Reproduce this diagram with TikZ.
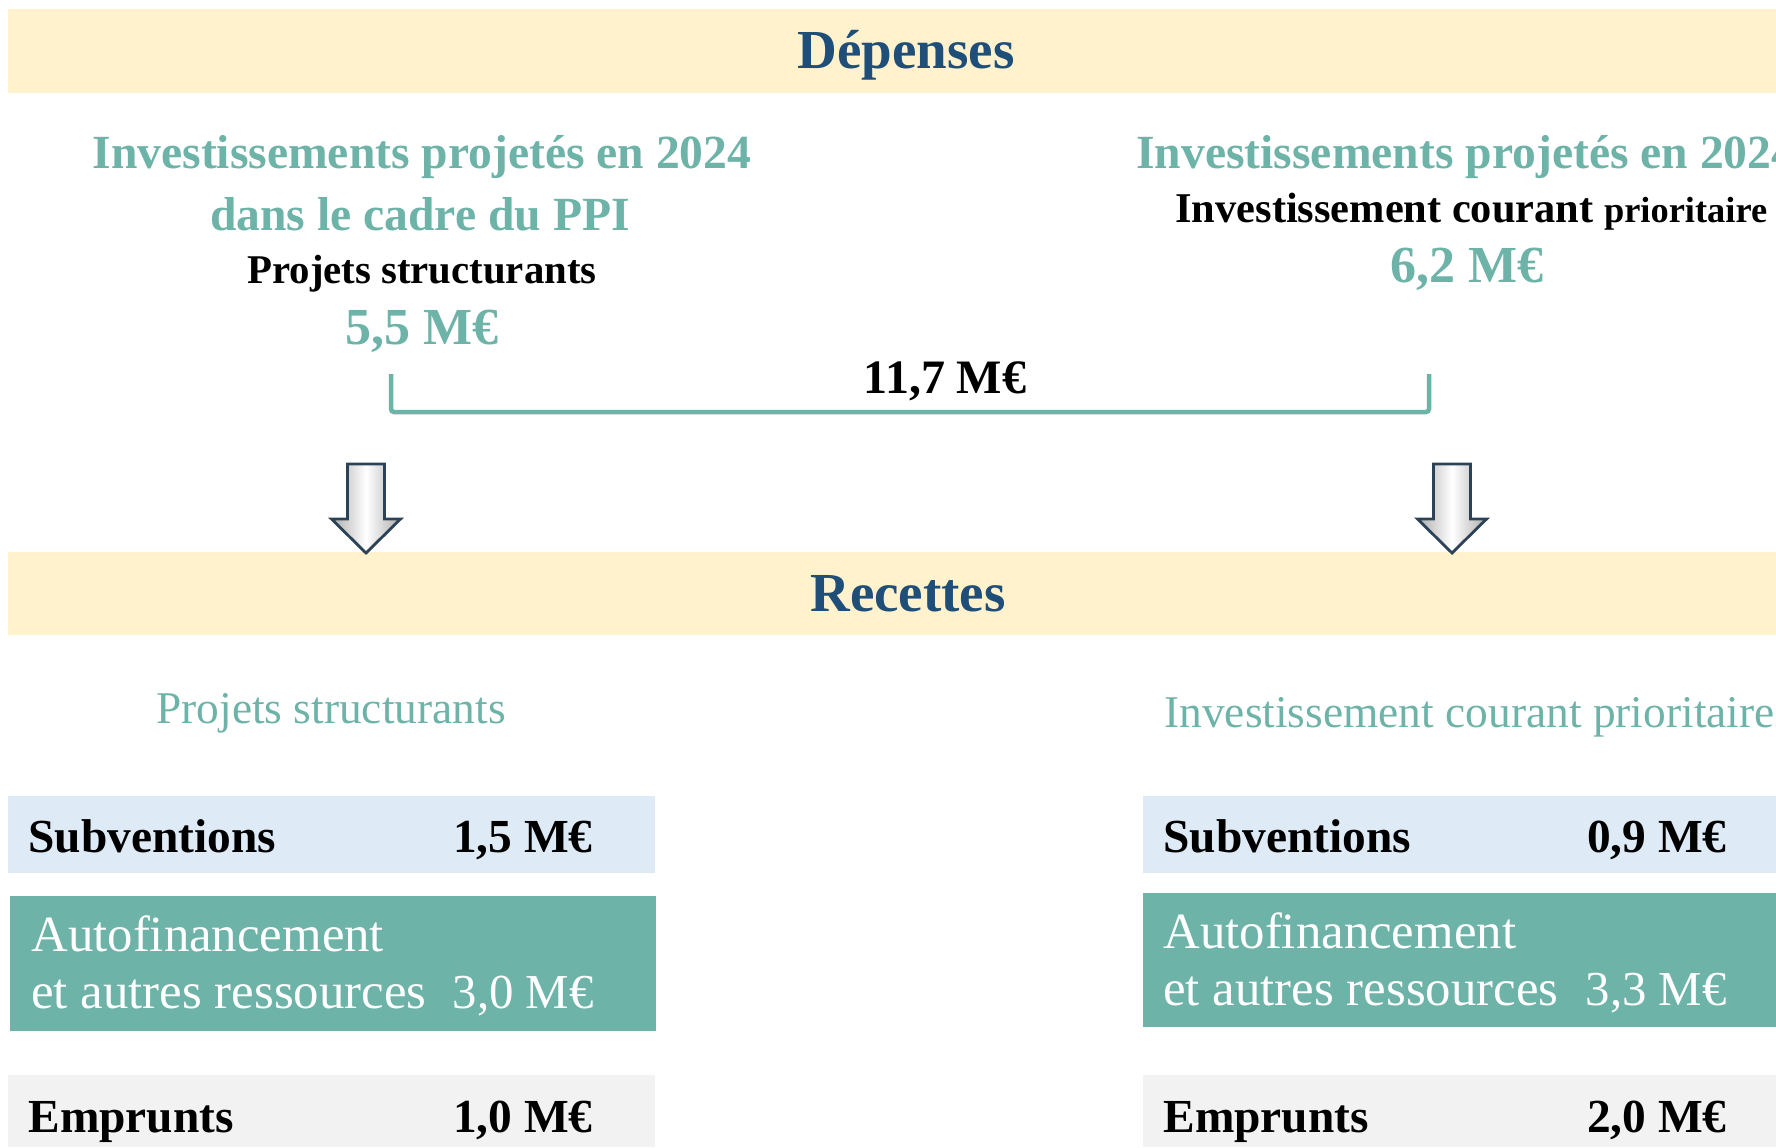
\documentclass[tikz,border=0pt]{standalone}
\usepackage{fontspec}
\setmainfont{Liberation Serif}
\usepackage{tikz}
\usetikzlibrary{positioning}

\definecolor{cream}{HTML}{FFF2CC}
\definecolor{navy}{HTML}{1F4E79}
\definecolor{tealgreen}{HTML}{6DB3A8}
\definecolor{paleblue}{HTML}{DEEAF6}
\definecolor{palegrey}{HTML}{F2F2F2}
\definecolor{arrowline}{HTML}{2B4257}

\begin{document}
\begin{tikzpicture}[x=0.5pt,y=-0.5pt]
\tikzset{
    title/.style={anchor=base, inner sep=0, text=navy,
       font=\fontsize{27.5}{30}\selectfont\bfseries},
    head/.style={anchor=base, inner sep=0, text=tealgreen,
       font=\fontsize{23.8}{28}\selectfont\bfseries},
    sub/.style={anchor=base, inner sep=0,
       font=\fontsize{20.4}{24}\selectfont\bfseries},
    amount/.style={anchor=base, inner sep=0, text=tealgreen,
       font=\fontsize{26}{30}\selectfont\bfseries},
    subhead/.style={anchor=base, inner sep=0, text=tealgreen,
       font=\fontsize{22.7}{26}\selectfont},
    rowlabel/.style={anchor=base west, inner sep=0,
       font=\fontsize{23.7}{28}\selectfont\bfseries},
    rowvalue/.style={anchor=base east, inner sep=0,
       font=\fontsize{23.7}{28}\selectfont\bfseries},
    autolabel/.style={anchor=base west, inner sep=0, text=white,
       font=\fontsize{25.4}{28}\selectfont},
    autovalue/.style={anchor=base east, inner sep=0, text=white,
       font=\fontsize{24.4}{28}\selectfont},
    bracket/.style={draw=tealgreen, line width=2.25pt, rounded corners=1.5pt},
    darrow/.pic={
       \path[draw=arrowline, line width=1.4pt, left color=gray!65,
             right color=gray!65, middle color=white]
         (-18.5,0) -- (18.5,0) -- (18.5,55) -- (34.5,55) -- (0,89)
         -- (-34.5,55) -- (-18.5,55) -- cycle;
    }
}
%
\useasboundingbox (0,0) rectangle (1776,1147);
\clip (0,0) rectangle (1776,1147);

% bands
\fill[cream] (8,9) rectangle (1776,93);
\fill[cream] (8,552) rectangle (1776,635);
\node[title] (dep) at (906,68) {Dépenses};
\node[title] (rec) at (908,611) {Recettes};

% depenses
\node[head] (hl1) at (422,168) {Investissements projetés en 2024};
\node[head] (hl2) at (420,230) {dans le cadre du PPI};
\node[sub] (psd) at (422,283) {Projets structurants};
\node[amount] (mL) at (422,344) {5,5 M€};

\node[head, anchor=base west] (hr1) at (1136,168) {Investissements projetés en 2024};
\node[sub, anchor=base west, font=\fontsize{21.2}{24}\selectfont\bfseries] (icd) at (1175,222)
   {Investissement courant {\fontsize{18.2}{20}\selectfont prioritaire}};
\node[amount] (mR) at (1467,282) {6,2 M€};

\coordinate (brL) at (391,374);
\coordinate (brR) at (1429,374);
\draw[bracket] (brL) -- ++(0,38) -| (brR);
\node[sub, font=\fontsize{24}{28}\selectfont\bfseries] (tot) at (945,393) {11,7 M€};

\pic (arrL) at (366,464) {darrow};
\pic (arrR) at (1452,464) {darrow};

% recettes
\node[subhead] (psr) at (331,723) {Projets structurants};
\node[subhead, anchor=base west] (icr) at (1164,727) {Investissement courant prioritaire};

\fill[paleblue] (8,796) rectangle (655,873);
\node[rowlabel] (subL) at (28,852) {Subventions};
\node[rowvalue] (subLv) at (593,852) {1,5 M€};
\fill[tealgreen] (10,896) rectangle (656,1031);
\node[autolabel] (autL) at (31,951) {Autofinancement};
\node[autolabel] (autL2) at (31,1008) {et autres ressources};
\node[autovalue] (autLv) at (594,1008) {3,0 M€};
\fill[palegrey] (8,1075) rectangle (655,1147);
\node[rowlabel] (empL) at (28,1132) {Emprunts};
\node[rowvalue] (empLv) at (593,1132) {1,0 M€};

\fill[paleblue] (1143,796) rectangle (1776,873);
\node[rowlabel] (subR) at (1163,852) {Subventions};
\node[rowvalue] (subRv) at (1727,852) {0,9 M€};
\fill[tealgreen] (1143,893) rectangle (1776,1027);
\node[autolabel] (autR) at (1163,948) {Autofinancement};
\node[autolabel] (autR2) at (1163,1005) {et autres ressources};
\node[autovalue] (autRv) at (1727,1005) {3,3 M€};
\fill[palegrey] (1143,1075) rectangle (1776,1147);
\node[rowlabel] (empR) at (1163,1132) {Emprunts};
\node[rowvalue] (empRv) at (1727,1132) {2,0 M€};
\end{tikzpicture}
\end{document}
